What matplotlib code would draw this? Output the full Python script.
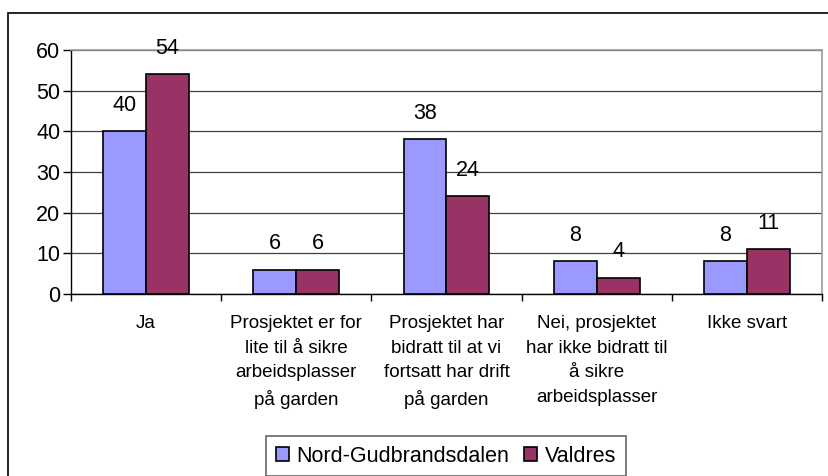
import matplotlib.pyplot as plt
from matplotlib.patches import Rectangle
import numpy as np

# dados do gráfico
kategorier = ["Ja",
              "Prosjektet er for\nlite til å sikre\narbeidsplasser\npå garden",
              "Prosjektet har\nbidratt til at vi\nfortsatt har drift\npå garden",
              "Nei, prosjektet\nhar ikke bidratt til\nå sikre\narbeidsplasser",
              "Ikke svart"]
nord_gudbrandsdalen = [40, 6, 38, 8, 8]
valdres = [54, 6, 24, 4, 11]
serier = ["Nord-Gudbrandsdalen", "Valdres"]
y_ticks = [0, 10, 20, 30, 40, 50, 60]

plt.rcParams['font.family'] = ['Liberation Sans', 'DejaVu Sans']

fig = plt.figure(figsize=(8.29, 4.76), dpi=100)
W, H = 829, 476
ax = fig.add_axes([71 / W, 1 - 294 / H, (822 - 71) / W, (294 - 50) / H])

# moldura externa
fig.patches.append(Rectangle((8 / W, -0.1), 1.0, 1 - 13 / H + 0.1, transform=fig.transFigure,
                             fill=False, edgecolor='black', linewidth=1.2))

x = np.arange(len(kategorier))
largura = 1 / 3.5
b1 = ax.bar(x - largura / 2, nord_gudbrandsdalen, largura, color='#9999FF',
            edgecolor='black', linewidth=1.2, label=serier[0], zorder=3)
b2 = ax.bar(x + largura / 2, valdres, largura, color='#993366',
            edgecolor='black', linewidth=1.2, label=serier[1], zorder=3)

for barras in (b1, b2):
    for b in barras:
        ax.annotate(f"{int(b.get_height())}", (b.get_x() + b.get_width() / 2, b.get_height()),
                    xytext=(0, 11), textcoords='offset points', ha='center', va='bottom',
                    fontsize=15.5, zorder=4)

ax.set_xlim(-0.5, len(kategorier) - 0.5)
ax.set_ylim(0, 60)
ax.set_yticks(y_ticks)
ax.tick_params(axis='y', labelsize=15.5, length=5.8, width=1, direction='out', pad=2)
ax.set_xticks(np.arange(-0.5, len(kategorier), 1))
ax.set_xticklabels([])
ax.tick_params(axis='x', length=5, width=1, direction='out')
ax.set_xticks(x, minor=True)
ax.set_xticklabels(kategorier, minor=True, fontsize=13.5, linespacing=1.6, va='top')
ax.tick_params(axis='x', which='minor', length=0, pad=15)

ax.grid(axis='y', color='#404040', linewidth=0.9, zorder=0)
for s in ('top', 'right'):
    ax.spines[s].set_color('#999999')
    ax.spines[s].set_linewidth(1.2)
for s in ('left', 'bottom'):
    ax.spines[s].set_color('black')
    ax.spines[s].set_linewidth(1)

leg = ax.legend(loc='center', bbox_to_anchor=(446 / W, 1 - 456 / H), bbox_transform=fig.transFigure,
                ncol=2, frameon=True, fancybox=False, edgecolor='#404040',
                handlelength=0.6, handleheight=0.6, handletextpad=0.35, columnspacing=0.7,
                borderpad=0.45, borderaxespad=0, prop={'size': 15.5})
leg.get_frame().set_linewidth(1.2)

fig.savefig('out.png', dpi=100)
